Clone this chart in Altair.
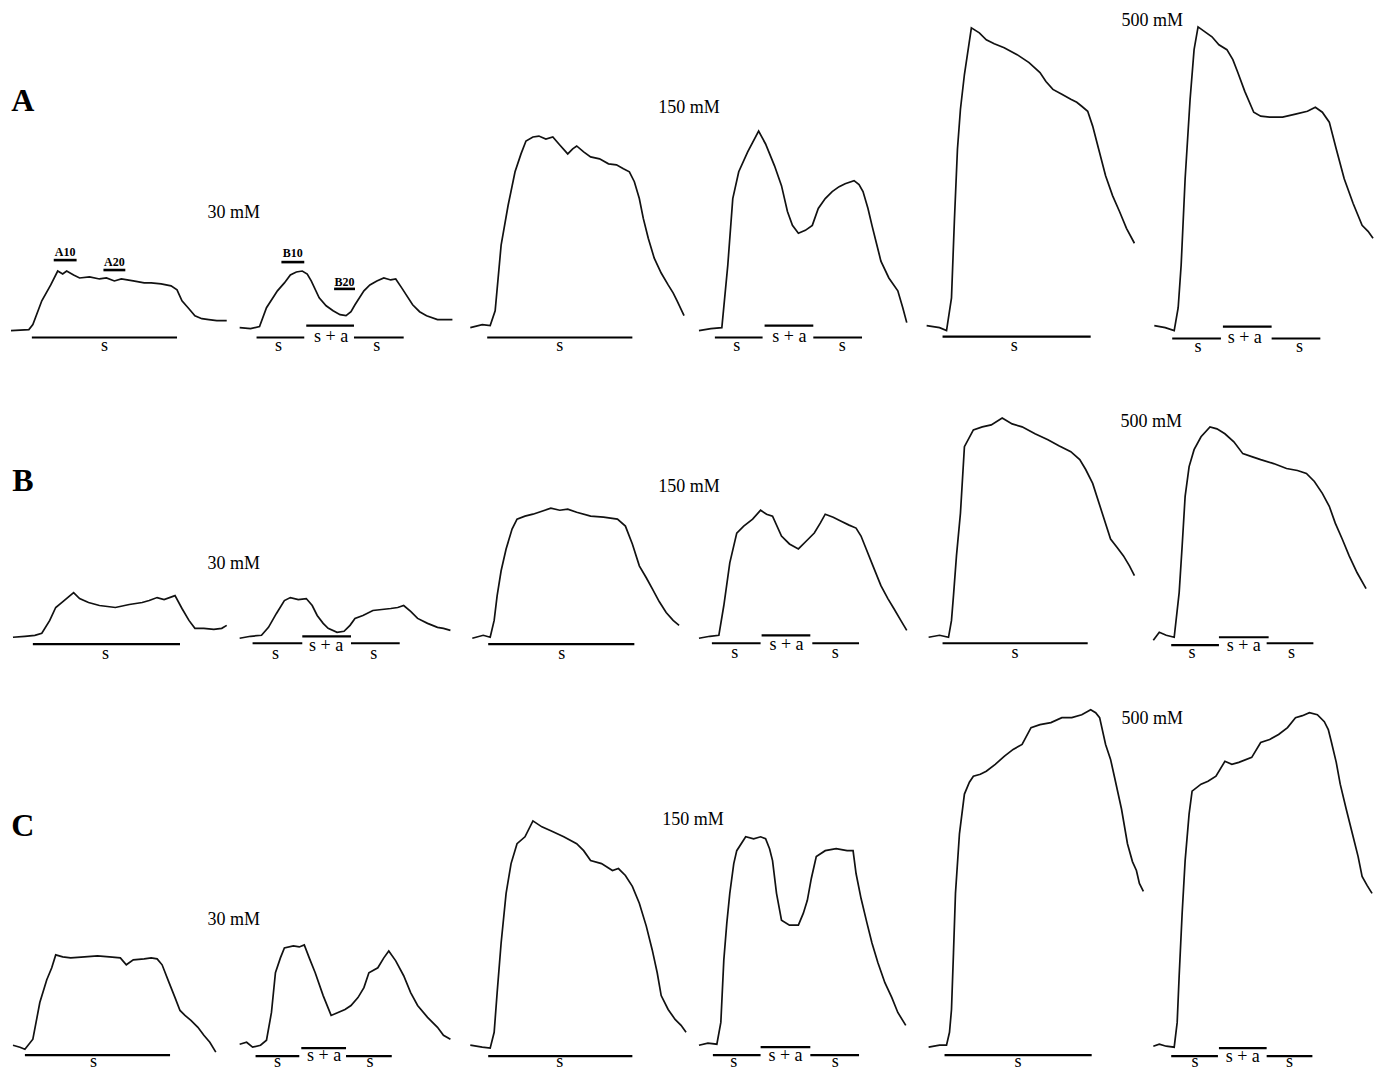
import altair as alt
import pandas as pd

# Traces: horizontal position and vertical level of each
# recording (levels are measured downward, as in the printed figure).

# Row A
a1_x = [11, 29, 33, 42, 51, 58, 63, 67, 74, 80, 90, 100, 107, 115, 122, 134, 145, 152, 162, 172, 178, 183, 190, 196, 203, 210, 218, 228]
a1_y = [333, 332, 327, 303, 287, 273, 276, 273, 277, 280, 279, 281, 280, 283, 281, 283, 285, 285, 286, 288, 292, 303, 311, 318, 321, 322, 323, 323]
a2_x = [241, 252, 261, 268, 279, 286, 292, 298, 304, 309, 313, 321, 328, 335, 342, 348, 353, 357, 366, 372, 379, 386, 393, 398, 404, 415, 422, 429, 440, 455]
a2_y = [330, 331, 329, 310, 293, 285, 277, 274, 273, 276, 283, 300, 308, 313, 317, 318, 314, 307, 293, 287, 283, 280, 282, 281, 290, 307, 314, 318, 322, 322]
a3_x = [473, 485, 493, 498, 504, 511, 518, 524, 529, 536, 542, 549, 556, 563, 571, 576, 580, 587, 594, 603, 612, 620, 627, 633, 638, 643, 647, 652, 658, 665, 672, 677, 681, 688]
a3_y = [330, 327, 328, 313, 247, 207, 173, 155, 142, 138, 137, 140, 138, 146, 155, 150, 147, 153, 158, 160, 165, 166, 170, 173, 183, 200, 220, 240, 260, 275, 287, 295, 303, 318]
a4_x = [703, 715, 726, 732, 737, 743, 752, 763, 770, 779, 786, 792, 797, 803, 810, 817, 823, 830, 837, 844, 850, 859, 864, 868, 873, 877, 882, 886, 894, 903, 908, 912]
a4_y = [333, 331, 330, 267, 200, 173, 153, 132, 145, 167, 187, 213, 227, 235, 232, 227, 210, 200, 193, 188, 185, 182, 186, 193, 210, 227, 247, 263, 280, 293, 310, 325]
a5_x = [932, 945, 952, 957, 960, 963, 966, 970, 977, 985, 992, 1000, 1010, 1023, 1035, 1046, 1052, 1059, 1068, 1077, 1083, 1088, 1094, 1099, 1105, 1112, 1119, 1126, 1133, 1141]
a5_y = [328, 330, 333, 300, 220, 150, 110, 75, 28, 33, 40, 44, 48, 55, 63, 73, 82, 90, 95, 100, 103, 107, 112, 127, 150, 177, 197, 213, 230, 245]
a6_x = [1161, 1172, 1181, 1185, 1188, 1192, 1197, 1201, 1205, 1212, 1219, 1226, 1234, 1240, 1245, 1252, 1261, 1268, 1277, 1290, 1303, 1315, 1323, 1330, 1337, 1344, 1352, 1361, 1370, 1376, 1381]
a6_y = [328, 330, 333, 310, 267, 180, 100, 50, 27, 32, 37, 45, 50, 60, 73, 92, 113, 117, 118, 118, 115, 112, 108, 113, 123, 150, 180, 205, 227, 233, 240]

# Row B
b1_x = [13, 25, 35, 42, 50, 56, 62, 68, 74, 80, 89, 100, 116, 130, 143, 150, 158, 165, 176, 183, 190, 196, 205, 215, 223, 228]
b1_y = [642, 641, 640, 638, 625, 612, 607, 602, 597, 603, 607, 610, 612, 609, 607, 605, 602, 604, 600, 613, 625, 633, 633, 634, 633, 630]
b2_x = [241, 252, 263, 270, 278, 286, 292, 300, 308, 314, 319, 325, 330, 339, 346, 352, 357, 365, 375, 384, 393, 400, 406, 413, 420, 430, 440, 446, 453]
b2_y = [643, 641, 640, 632, 618, 605, 602, 604, 603, 610, 620, 628, 633, 637, 636, 630, 623, 620, 615, 614, 613, 612, 610, 616, 623, 628, 632, 633, 635]
b3_x = [475, 486, 493, 497, 500, 504, 509, 515, 520, 528, 536, 545, 554, 563, 571, 580, 594, 607, 621, 629, 636, 643, 650, 656, 663, 670, 677, 683]
b3_y = [643, 640, 642, 625, 600, 575, 553, 533, 523, 520, 518, 515, 512, 514, 513, 516, 520, 521, 523, 530, 548, 570, 582, 593, 606, 617, 625, 630]
b4_x = [703, 714, 723, 728, 734, 741, 748, 757, 765, 771, 777, 786, 794, 803, 811, 819, 825, 830, 838, 846, 854, 861, 866, 870, 878, 886, 893, 899, 906, 912]
b4_y = [643, 641, 640, 610, 567, 537, 530, 523, 514, 518, 520, 540, 548, 553, 545, 537, 527, 518, 521, 525, 529, 532, 540, 550, 570, 590, 603, 613, 625, 635]
b5_x = [934, 945, 954, 957, 959, 962, 966, 970, 979, 988, 997, 1008, 1018, 1028, 1041, 1054, 1065, 1077, 1086, 1092, 1099, 1108, 1117, 1124, 1130, 1136, 1141]
b5_y = [642, 640, 642, 625, 600, 560, 517, 450, 433, 430, 428, 421, 427, 430, 437, 443, 449, 455, 463, 473, 487, 515, 543, 552, 560, 570, 580]
b6_x = [1160, 1166, 1173, 1181, 1186, 1189, 1192, 1196, 1201, 1208, 1217, 1224, 1232, 1241, 1250, 1259, 1268, 1281, 1294, 1305, 1314, 1322, 1330, 1337, 1343, 1350, 1357, 1365, 1374]
b6_y = [645, 637, 640, 642, 597, 550, 500, 470, 453, 440, 430, 432, 437, 445, 457, 460, 463, 467, 472, 474, 477, 485, 497, 510, 527, 543, 560, 577, 593]

# Row C
c1_x = [13, 20, 25, 33, 40, 47, 52, 56, 63, 71, 85, 98, 110, 121, 127, 134, 145, 152, 158, 163, 170, 176, 181, 186, 192, 199, 205, 211, 217]
c1_y = [1053, 1055, 1057, 1047, 1010, 987, 975, 962, 964, 965, 964, 963, 964, 965, 972, 967, 966, 965, 966, 972, 990, 1005, 1018, 1023, 1028, 1035, 1043, 1050, 1060]
c2_x = [241, 248, 254, 262, 268, 273, 277, 282, 286, 295, 301, 306, 311, 317, 325, 333, 340, 347, 353, 360, 366, 371, 380, 386, 391, 398, 406, 413, 420, 430, 440, 446, 453]
c2_y = [1052, 1050, 1055, 1053, 1048, 1020, 980, 965, 955, 953, 954, 952, 965, 980, 1003, 1023, 1020, 1017, 1013, 1005, 995, 980, 975, 965, 958, 968, 983, 1000, 1013, 1025, 1035, 1043, 1047]
c3_x = [473, 485, 493, 497, 500, 504, 509, 514, 520, 528, 536, 545, 554, 567, 580, 587, 594, 605, 616, 622, 629, 636, 643, 650, 656, 661, 665, 672, 679, 685, 690]
c3_y = [1053, 1055, 1056, 1040, 1000, 950, 900, 870, 850, 843, 827, 833, 837, 843, 850, 857, 867, 870, 877, 875, 882, 893, 910, 933, 957, 980, 1003, 1017, 1027, 1033, 1040]
c4_x = [703, 712, 721, 725, 728, 731, 734, 738, 741, 750, 758, 765, 770, 774, 777, 781, 786, 794, 803, 808, 812, 816, 821, 830, 841, 852, 858, 861, 866, 872, 877, 883, 890, 897, 903, 911]
c4_y = [1053, 1051, 1052, 1030, 967, 930, 900, 870, 857, 843, 845, 843, 845, 855, 867, 900, 927, 932, 932, 920, 907, 885, 863, 857, 855, 857, 857, 880, 905, 930, 950, 970, 990, 1005, 1020, 1033]
c5_x = [934, 945, 952, 955, 957, 959, 961, 965, 970, 975, 979, 986, 992, 1001, 1010, 1019, 1028, 1037, 1046, 1057, 1068, 1078, 1088, 1097, 1102, 1106, 1112, 1117, 1121, 1128, 1134, 1139, 1143, 1146, 1150]
c5_y = [1055, 1053, 1053, 1040, 1017, 960, 900, 840, 800, 788, 782, 780, 777, 770, 762, 755, 750, 733, 730, 728, 723, 723, 720, 715, 718, 723, 750, 765, 783, 815, 850, 868, 877, 890, 898]
c6_x = [1160, 1166, 1173, 1181, 1184, 1186, 1189, 1192, 1196, 1199, 1208, 1215, 1223, 1232, 1239, 1246, 1259, 1268, 1277, 1286, 1295, 1303, 1310, 1317, 1325, 1332, 1336, 1339, 1344, 1348, 1354, 1361, 1366, 1370, 1375, 1380]
c6_y = [1054, 1052, 1054, 1055, 1030, 983, 920, 867, 820, 797, 790, 787, 782, 767, 770, 768, 763, 748, 745, 740, 733, 723, 721, 718, 720, 727, 735, 747, 768, 790, 815, 843, 863, 883, 892, 900]

# stimulus bars: start, end, level
stim_x1 = [32, 258, 308, 356, 490, 719, 769, 818, 948, 1179, 1230, 1279,
           33, 254, 304, 353, 491, 716, 766, 817, 948, 1178, 1226, 1274,
           25, 257, 303, 348, 491, 717, 765, 815, 950, 1178, 1226, 1274]
stim_x2 = [178, 306, 356, 406, 636, 767, 818, 867, 1097, 1228, 1279, 1328,
           181, 304, 353, 402, 638, 765, 815, 864, 1094, 1226, 1276, 1321,
           171, 301, 348, 394, 636, 765, 815, 864, 1098, 1225, 1274, 1320]
stim_y = [340, 340, 328, 340, 340, 340, 328, 340, 339, 341, 329, 341,
          649, 648, 641, 648, 649, 648, 640, 648, 648, 650, 642, 648,
          1063, 1064, 1056, 1064, 1064, 1063, 1055, 1063, 1063, 1064, 1056, 1064]

# measurement windows A10, A20, B10, B20
win_names = ["A10", "A20", "B10", "B20"]
win_x1 = [54, 104, 283, 336]
win_x2 = [77, 126, 306, 357]
win_y = [262, 272, 264, 291]
win_text_y = [258, 268, 259, 288]

panel_letters = ["A", "B", "C"]
panel_x = [23, 23, 23]
panel_y = [112, 495, 842]

conc_labels = ["30 mM", "150 mM", "500 mM"] * 3
conc_x = [235, 693, 1159, 235, 693, 1158, 235, 697, 1159]
conc_y = [220, 114, 26, 573, 496, 430, 932, 831, 729]

s_x = [105, 280, 379, 563, 741, 847, 1020, 1205, 1307,
       106, 277, 376, 565, 739, 840, 1021, 1199, 1299,
       94, 279, 372, 563, 738, 840, 1024, 1202, 1297]
s_y = [354] * 7 + [355, 355] + [664] * 4 + [663] * 5 + [1075] * 9
sa_x = [333, 794, 1252, 328, 791, 1251, 326, 790, 1250]
sa_y = [345, 345, 346, 656, 655, 656, 1069, 1069, 1070]

traces = {
    "a1": (a1_x, a1_y), "a2": (a2_x, a2_y), "a3": (a3_x, a3_y),
    "a4": (a4_x, a4_y), "a5": (a5_x, a5_y), "a6": (a6_x, a6_y),
    "b1": (b1_x, b1_y), "b2": (b2_x, b2_y), "b3": (b3_x, b3_y),
    "b4": (b4_x, b4_y), "b5": (b5_x, b5_y), "b6": (b6_x, b6_y),
    "c1": (c1_x, c1_y), "c2": (c2_x, c2_y), "c3": (c3_x, c3_y),
    "c4": (c4_x, c4_y), "c5": (c5_x, c5_y), "c6": (c6_x, c6_y),
}

rows = []
for name, (xs, ys) in traces.items():
    for i, (x, y) in enumerate(zip(xs, ys)):
        rows.append({"trace": name, "order": i, "x": x, "y": y})
trace_df = pd.DataFrame(rows)

stim_df = pd.DataFrame({"x": stim_x1, "x2": stim_x2, "y": stim_y})
win_df = pd.DataFrame({"label": win_names, "x": win_x1, "x2": win_x2, "y": win_y,
                       "xm": [(a + b) / 2 for a, b in zip(win_x1, win_x2)], "ty": win_text_y})
letter_df = pd.DataFrame({"label": panel_letters, "x": panel_x, "y": panel_y})
conc_df = pd.DataFrame({"label": conc_labels, "x": conc_x, "y": conc_y})
s_df = pd.DataFrame({"label": ["s"] * len(s_x), "x": s_x, "y": s_y})
sa_df = pd.DataFrame({"label": ["s + a"] * len(sa_x), "x": sa_x, "y": sa_y})

X = alt.Scale(domain=[8, 1387], nice=False, zero=False)
Y = alt.Scale(domain=[8, 1081], nice=False, zero=False, reverse=True)
SERIF = "Liberation Serif"

lines = alt.Chart(trace_df).mark_line(color="#111111", strokeWidth=1.7).encode(
    x=alt.X("x:Q", scale=X, axis=None),
    y=alt.Y("y:Q", scale=Y, axis=None),
    detail="trace:N",
    order="order:Q",
)

stim = alt.Chart(stim_df).mark_rule(color="black", strokeWidth=2.2).encode(
    x="x:Q", x2="x2:Q", y="y:Q"
)

windows = alt.Chart(win_df).mark_rule(color="black", strokeWidth=2.6).encode(
    x="x:Q", x2="x2:Q", y="y:Q"
)

win_text = alt.Chart(win_df).mark_text(font=SERIF, fontSize=12, fontWeight="bold",
                                       align="center", baseline="alphabetic").encode(
    x="xm:Q", y="ty:Q", text="label:N"
)

letters = alt.Chart(letter_df).mark_text(font=SERIF, fontSize=32, fontWeight="bold",
                                         align="center", baseline="alphabetic").encode(
    x="x:Q", y="y:Q", text="label:N"
)

conc = alt.Chart(conc_df).mark_text(font=SERIF, fontSize=18,
                                    align="center", baseline="alphabetic").encode(
    x="x:Q", y="y:Q", text="label:N"
)

s_text = alt.Chart(s_df).mark_text(font=SERIF, fontSize=18,
                                   align="center", baseline="alphabetic").encode(
    x="x:Q", y="y:Q", text="label:N"
)

sa_text = alt.Chart(sa_df).mark_text(font=SERIF, fontSize=18,
                                     align="center", baseline="alphabetic").encode(
    x="x:Q", y="y:Q", text="label:N"
)

chart = alt.layer(lines, stim, windows, win_text, letters, conc, s_text, sa_text).properties(
    width=1371, height=1065, padding=0, autosize=alt.AutoSizeParams(type="none")
).configure_view(stroke=None)

chart.save("out.html", embed_options={"renderer": "svg", "actions": False})
